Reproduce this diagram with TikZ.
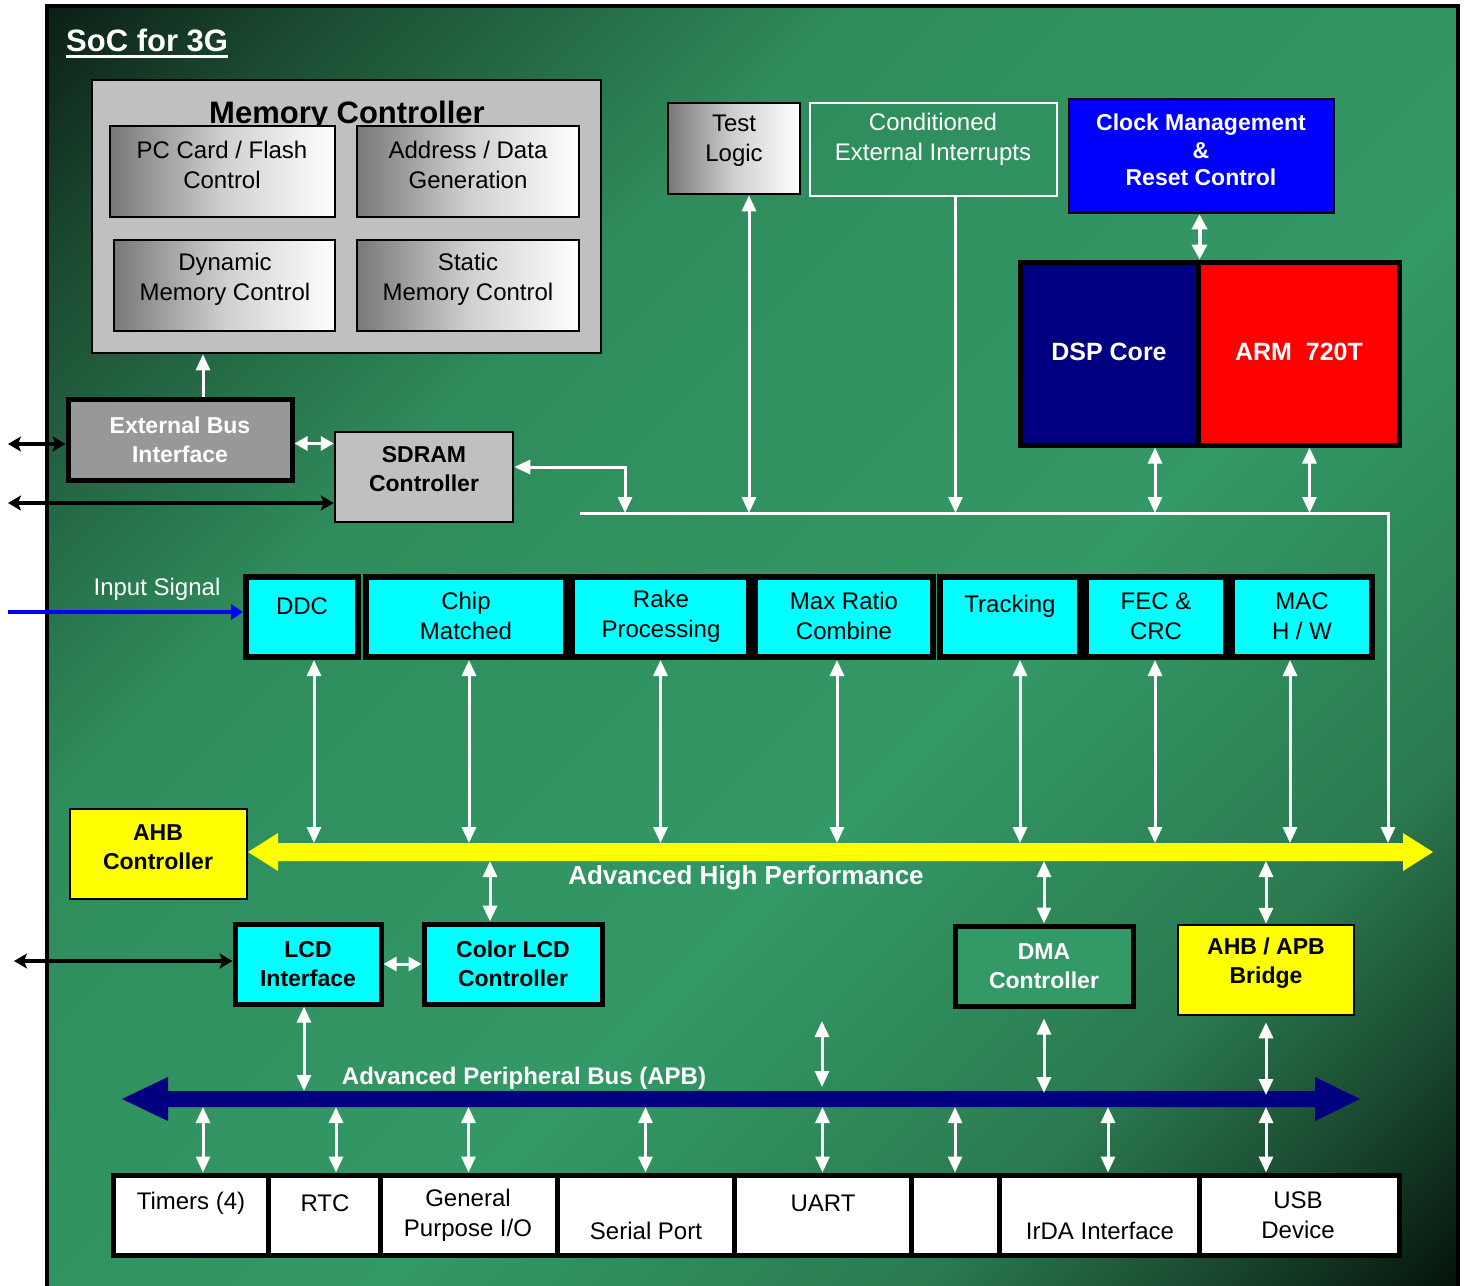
\documentclass[tikz,border=0pt]{standalone}
\usepackage{fontspec}
\setmainfont{Liberation Sans}
\usetikzlibrary{arrows.meta}

% greens of the board, from the top-left corner to the bottom-right corner
\definecolor{bgA}{HTML}{0B2016}
\definecolor{bgB}{HTML}{1B4B31}
\definecolor{bgC}{HTML}{2F8C5C}
\definecolor{bgM}{HTML}{339966}
\definecolor{bgX}{HTML}{2A7A50}
\definecolor{bgY}{HTML}{1A4A30}
\definecolor{bgZ}{HTML}{04120A}
\definecolor{memgray}{HTML}{C0C0C0}
\definecolor{ebigray}{HTML}{989898}
\definecolor{gradL}{HTML}{787878}
\definecolor{gradM}{HTML}{CFCFCF}
\definecolor{dmagreen}{HTML}{339966}
\definecolor{navybus}{HTML}{000080}
\definecolor{blockcyan}{RGB}{0,255,255}
\definecolor{busyellow}{RGB}{255,255,0}
\definecolor{clockblue}{RGB}{0,0,255}
\definecolor{armred}{RGB}{255,0,0}

\pgfdeclareverticalshading{socbg}{100bp}{%
  color(0bp)=(bgZ); color(14.6bp)=(bgZ); color(21.7bp)=(bgY);
  color(28.8bp)=(bgX); color(42.9bp)=(bgM); color(64.2bp)=(bgC);
  color(78.3bp)=(bgB); color(85.4bp)=(bgA); color(100bp)=(bgA)}

% block by its corners: [style]{name}{x1}{y1}{x2}{y2}
\newcommand\blk[6][]{%
  \node[#1, minimum width={#5-(#3)}, minimum height={#6-(#4)}] (#2)
    at ({(#3+#5)/2},{(#4+#6)/2}) {};}

\begin{document}
\begin{tikzpicture}[x=1pt,y=-1pt,
  every node/.style={inner sep=0pt},
  txt/.style={font=\fontsize{24}{30}\selectfont, align=center},
  btxt/.style={font=\bfseries\fontsize{23}{29}\selectfont, align=center},
  thinbox/.style={draw=black, line width=2.5pt},
  heavybox/.style={draw=black, line width=5pt},
  shadebox/.style={thinbox, left color=gradL, right color=white, middle color=gradM},
  cyanbox/.style={draw=black, line width=6pt, fill=blockcyan},
  cellbox/.style={heavybox, fill=white},
  whiteln/.style={draw=white, line width=3pt},
  wdbl/.style={whiteln, {Triangle[width=14pt,length=16pt]}-{Triangle[width=14pt,length=16pt]}},
  wone/.style={whiteln, -{Triangle[width=14pt,length=16pt]}},
  wshort/.style={whiteln, {Triangle[width=14pt,length=13pt]}-{Triangle[width=14pt,length=13pt]}},
  kdbl/.style={draw=black, line width=4.5pt,
    {Stealth[width=15pt,length=13pt,inset=3pt]}-{Stealth[width=15pt,length=13pt,inset=3pt]}},
]
\useasboundingbox (0,0) rectangle (1467,1285);
\fill[white] (0,0) rectangle (1467,1285);

% board
\path[shade, shading=socbg, shading angle=45, draw=black, line width=4pt]
  (47,6) rectangle (1458,1292);

\node[font=\bfseries\fontsize{31}{36}\selectfont, text=white, anchor=base west] (title) at (66,51) {SoC for 3G};
\draw[white, line width=3pt] ([yshift=-5pt]title.base west) -- ([yshift=-5pt]title.base east);

% buses
\coordinate (yT) at (0,843);
\coordinate (yB) at (0,861);
\fill[busyellow] (248,852) -- (278,833) -- (278,843) -- (1403,843) -- (1403,833) -- (1433,852)
  -- (1403,871) -- (1403,861) -- (278,861) -- (278,871) -- cycle;
\coordinate (aT) at (0,1091);
\coordinate (aB) at (0,1107);
\fill[navybus] (122,1099) -- (168,1077) -- (168,1091) -- (1315,1091) -- (1315,1077) -- (1360,1099)
  -- (1315,1121) -- (1315,1107) -- (168,1107) -- (168,1121) -- cycle;
\node[font=\bfseries\fontsize{26}{30}\selectfont, text=white] (ahpL) at (746,878) {Advanced High Performance};
\node[font=\bfseries\fontsize{24}{30}\selectfont, text=white] (apbL) at (524,1078) {Advanced Peripheral Bus (APB)};

% memory controller
\blk[thinbox, fill=memgray]{mem}{92}{80}{601}{353}
\node[font=\bfseries\fontsize{31}{36}\selectfont, anchor=base] (memT) at (347,123) {Memory Controller};
\blk[shadebox]{pcf}{110}{126}{335}{217}
\blk[shadebox]{adg}{357}{126}{579}{217}
\blk[shadebox]{dmc}{114}{240}{335}{331}
\blk[shadebox]{smc}{357}{240}{579}{331}
\node[txt] (pcfT) at (222,165) {PC Card / Flash\\Control};
\node[txt] (adgT) at (468,165) {Address / Data\\Generation};
\node[txt] (dmcT) at (225,279) {Dynamic\\Memory Control};
\node[txt] (smcT) at (468,279) {Static\\Memory Control};

% external bus and SDRAM
\blk[heavybox, fill=ebigray]{ebi}{68}{399}{292}{480}
\node[btxt, text=white] (ebiT) at (180,440) {External Bus\\Interface};
\blk[thinbox, fill=memgray]{sdram}{335}{432}{513}{522}
\node[btxt] (sdramT) at (424,469) {SDRAM\\Controller};

% test, interrupts, clock, cores
\blk[shadebox]{test}{668}{103}{800}{194}
\node[txt] (testT) at (734,141) {Test\\Logic};
\blk[draw=white, line width=2pt]{cond}{810}{103}{1057}{196}
\node[txt, text=white] (condT) at (933,139) {Conditioned\\External Interrupts};
\blk[thinbox, fill=clockblue]{clock}{1069}{99}{1334}{213}
\node[btxt, text=white, font=\bfseries\fontsize{23}{27.5}\selectfont] (clockT) at (1201,150)
  {Clock Management\\\&\\Reset Control};
\blk[heavybox, fill=navybus]{dsp}{1020}{262}{1198}{445}
\blk[heavybox, fill=armred]{arm}{1198}{262}{1399}{445}
\node[font=\bfseries\fontsize{25}{30}\selectfont, text=white] (dspT) at (1109,352) {DSP Core};
\node[font=\bfseries\fontsize{25}{30}\selectfont, text=white] (armT) at (1299,352) {ARM\ \ 720T};

% receiver chain
\node[txt, text=white] (inT) at (157,589) {Input Signal};
\blk[cyanbox]{ddc}{246}{577}{358}{657}
\blk[cyanbox]{chip}{366}{577}{566}{657}
\blk[cyanbox]{rake}{572}{577}{749}{657}
\blk[cyanbox]{maxr}{755}{577}{933}{657}
\blk[cyanbox]{track}{940}{577}{1080}{657}
\blk[cyanbox]{fec}{1086}{577}{1226}{657}
\blk[cyanbox]{mac}{1232}{577}{1372}{657}
\node[txt] (ddcT) at (302,606) {DDC};
\node[txt] (chipT) at (466,616) {Chip\\Matched};
\node[txt] (rakeT) at (661,616) {Rake\\Processing};
\node[txt] (maxrT) at (844,616) {Max Ratio\\Combine};
\node[txt] (trackT) at (1010,606) {Tracking};
\node[txt] (fecT) at (1156,616) {FEC \&\\CRC};
\node[txt] (macT) at (1302,616) {MAC\\H / W};

% AHB side
\blk[thinbox, fill=busyellow]{ahbc}{70}{809}{247}{899}
\node[btxt] (ahbcT) at (158,847) {AHB\\Controller};
\blk[heavybox, fill=blockcyan]{lcd}{235}{924}{381}{1004}
\node[btxt] (lcdT) at (308,964) {LCD\\Interface};
\blk[heavybox, fill=blockcyan]{clcd}{424}{924}{602}{1004}
\node[btxt] (clcdT) at (513,964) {Color LCD\\Controller};
\blk[heavybox, fill=dmagreen]{dma}{955}{926}{1133}{1006}
\node[btxt, text=white] (dmaT) at (1044,966) {DMA\\Controller};
\blk[thinbox, fill=busyellow]{bridge}{1178}{925}{1354}{1015}
\node[btxt] (bridgeT) at (1266,963) {AHB / APB\\Bridge};

% peripherals
\blk[cellbox]{tim}{113}{1175}{268}{1255}
\blk[cellbox]{rtc}{268}{1175}{380}{1255}
\blk[cellbox]{gpio}{380}{1175}{557}{1255}
\blk[cellbox]{ser}{557}{1175}{734}{1255}
\blk[cellbox]{uart}{734}{1175}{911}{1255}
\blk[cellbox]{spare}{911}{1175}{999}{1255}
\blk[cellbox]{irda}{999}{1175}{1199}{1255}
\blk[cellbox]{usb}{1199}{1175}{1399}{1255}
\node[txt] (timT) at (191,1203) {Timers (4)};
\node[txt] (rtcT) at (325,1203) {RTC};
\node[txt] (gpioT) at (468,1215) {General\\Purpose I/O};
\node[txt] (serT) at (646,1231) {Serial Port};
\node[txt] (uartT) at (823,1203) {UART};
\node[txt] (irdaT) at (1100,1231) {IrDA Interface};
\node[txt] (usbT) at (1298,1215) {USB\\Device};

% control bus on top
\coordinate (tbL) at (580,513);
\coordinate (tbJ) at (625,513);
\coordinate (tbR) at (1388,513);
\draw[wone] (tbL) -- (tbR) -- (tbR |- yT);
\draw[wdbl] ([yshift=10pt]sdram.east) -| (tbJ);
\draw[wdbl] ([xshift=15pt]test.south) -- ([xshift=15pt]test.south |- tbL);
\draw[wone] ([xshift=22pt]cond.south) -- ([xshift=22pt]cond.south |- tbL);
\draw[wdbl] ([xshift=46pt]dsp.south) -- ([xshift=46pt]dsp.south |- tbL);
\draw[wdbl] ([xshift=11pt]arm.south) -- ([xshift=11pt]arm.south |- tbL);
\draw[whiteln, line width=4pt, {Triangle[width=15pt,length=15pt]}-{Triangle[width=15pt,length=15pt]}]
  ([xshift=-2pt]clock.south) -- ([xshift=-2pt]clock.south |- dsp.north);

% memory side links
\draw[wone] ([xshift=23pt]ebi.north) -- ([xshift=23pt]ebi.north |- mem.south);
\draw[wshort] ([yshift=-4pt]ebi.east) -- ([yshift=-4pt]ebi.east -| sdram.west);
\coordinate (extA) at (8,444);
\coordinate (extB) at (8,503);
\coordinate (extC) at (14,961);
\coordinate (sigIn) at (8,612);
\draw[kdbl] (extA) -- (extA -| ebi.west);
\draw[kdbl] (extB) -- (extB -| sdram.west);
\draw[kdbl] (extC) -- (extC -| lcd.west);
\draw[draw=clockblue, line width=4pt, -{Triangle[width=15pt,length=12pt]}] (sigIn) -- (sigIn -| ddc.west);

% receiver chain to AHB
\draw[wdbl] ([xshift=12pt]ddc.south) -- ([xshift=12pt]ddc.south |- yT);
\draw[wdbl] ([xshift=3pt]chip.south) -- ([xshift=3pt]chip.south |- yT);
\draw[wdbl] (rake.south) -- (rake.south |- yT);
\draw[wdbl] ([xshift=-7pt]maxr.south) -- ([xshift=-7pt]maxr.south |- yT);
\draw[wdbl] ([xshift=10pt]track.south) -- ([xshift=10pt]track.south |- yT);
\draw[wdbl] ([xshift=-1pt]fec.south) -- ([xshift=-1pt]fec.south |- yT);
\draw[wdbl] ([xshift=-12pt]mac.south) -- ([xshift=-12pt]mac.south |- yT);

% AHB to the blocks below
\draw[wdbl] ([xshift=-23pt]clcd.north |- yB) -- ([xshift=-23pt]clcd.north);
\draw[wdbl] (dma.north |- yB) -- (dma.north);
\draw[wdbl] (bridge.north |- yB) -- (bridge.north);
\draw[wshort] (lcd.east) -- (clcd.west);

% APB links
\coordinate (uartUp) at (822,1021);
\draw[wdbl] ([xshift=-4pt]lcd.south) -- ([xshift=-4pt]lcd.south |- aT);
\draw[wdbl, shorten >=4pt] (uartUp) -- (uartUp |- aT);
\draw[wdbl, shorten >=8pt] ([yshift=-10pt]dma.south) -- ([yshift=-10pt]dma.south |- aT);
\draw[wdbl, shorten >=2pt] ([yshift=-6pt]bridge.south) -- ([yshift=-6pt]bridge.south |- aT);
\draw[wdbl] ([xshift=12.5pt]tim.north) -- ([xshift=12.5pt]tim.north |- aB);
\draw[wdbl] ([xshift=12pt]rtc.north) -- ([xshift=12pt]rtc.north |- aB);
\draw[wdbl] (gpio.north) -- (gpio.north |- aB);
\draw[wdbl] (ser.north) -- (ser.north |- aB);
\draw[wdbl] (uart.north) -- (uart.north |- aB);
\draw[wdbl] (spare.north) -- (spare.north |- aB);
\draw[wdbl] ([xshift=9pt]irda.north) -- ([xshift=9pt]irda.north |- aB);
\draw[wdbl] ([xshift=-33pt]usb.north) -- ([xshift=-33pt]usb.north |- aB);
\end{tikzpicture}
\end{document}
